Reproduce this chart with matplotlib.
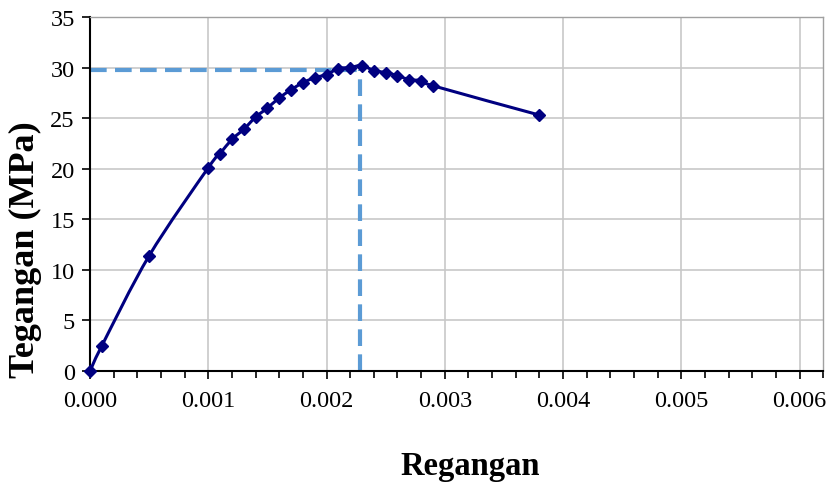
import numpy as np
import matplotlib.pyplot as plt
from matplotlib.ticker import MultipleLocator
from matplotlib.path import Path
from matplotlib.patches import PathPatch

plt.rcParams['font.family'] = ['Liberation Serif', 'DejaVu Serif']

# stress-strain data
regangan = [0.0, 0.0001, 0.0005, 0.0010, 0.0011, 0.0012, 0.0013, 0.0014, 0.0015,
            0.0016, 0.0017, 0.0018, 0.0019, 0.0020, 0.0021, 0.0022, 0.0023,
            0.0024, 0.0025, 0.0026, 0.0027, 0.0028, 0.0029, 0.0038]
tegangan = [0.0, 2.5, 11.4, 20.1, 21.5, 22.9, 23.9, 25.1, 26.0,
            27.0, 27.8, 28.5, 29.0, 29.3, 29.9, 30.0, 30.2,
            29.7, 29.5, 29.2, 28.8, 28.7, 28.2, 25.3]

# peak guide lines
puncak_x = 0.00228
puncak_y = 29.8

x_ticks = [0.000, 0.001, 0.002, 0.003, 0.004, 0.005, 0.006]
y_ticks = [0, 5, 10, 15, 20, 25, 30, 35]

fig, ax = plt.subplots(figsize=(8.34, 4.85), dpi=100)
fig.subplots_adjust(left=0.108, right=0.987, top=0.963, bottom=0.233)

ax.plot([0, puncak_x], [puncak_y, puncak_y], color='#5B9BD5', lw=3,
        linestyle=(0, (4, 2)), zorder=2)
ax.plot([puncak_x, puncak_x], [0, puncak_y], color='#5B9BD5', lw=3,
        linestyle=(0, (4, 2)), zorder=2)

# smoothed line (Excel style) as cubic bezier segments through the points
pts = np.column_stack([regangan, tegangan])
verts = [pts[0]]
codes = [Path.MOVETO]
n = len(pts)
for i in range(n - 1):
    p0 = pts[max(i - 1, 0)]
    p1 = pts[i]
    p2 = pts[i + 1]
    p3 = pts[min(i + 2, n - 1)]
    c1 = p1 + (p2 - p0) / 6
    c2 = p2 - (p3 - p1) / 6
    verts += [c1, c2, p2]
    codes += [Path.CURVE4] * 3
ax.add_patch(PathPatch(Path(verts, codes), facecolor='none', edgecolor='#000080',
                       lw=2.2, zorder=3, clip_on=False))
ax.plot(regangan, tegangan, linestyle='none', color='#000080', marker='D',
        markersize=6, zorder=4, clip_on=False)

ax.set_xlim(0, 0.0062)
ax.set_ylim(0, 35)
ax.set_xticks(x_ticks)
ax.set_xticklabels([f'{v:.3f}' for v in x_ticks])
ax.set_yticks(y_ticks)
ax.xaxis.set_minor_locator(MultipleLocator(0.0002))

ax.grid(True, which='major', color='#C8C8C8', lw=1.2)
ax.set_axisbelow(True)

for s in ['top', 'right']:
    ax.spines[s].set_color('#A0A0A0')
    ax.spines[s].set_linewidth(1)
for s in ['left', 'bottom']:
    ax.spines[s].set_color('black')
    ax.spines[s].set_linewidth(1.5)

ax.tick_params(axis='both', which='major', direction='out', length=6, width=1.2,
               labelsize=17.5)
ax.tick_params(axis='x', which='minor', direction='out', length=5, width=1.2)
ax.tick_params(axis='x', pad=8)
ax.tick_params(axis='y', pad=5)

ax.set_xlabel('Regangan', fontsize=23.5, fontweight='bold')
ax.xaxis.set_label_coords(0.519, -0.223)
ax.set_ylabel('Tegangan (MPa)', fontsize=26, fontweight='bold')
ax.yaxis.set_label_coords(-0.066, 0.345)

plt.savefig('out.png', dpi=100)
